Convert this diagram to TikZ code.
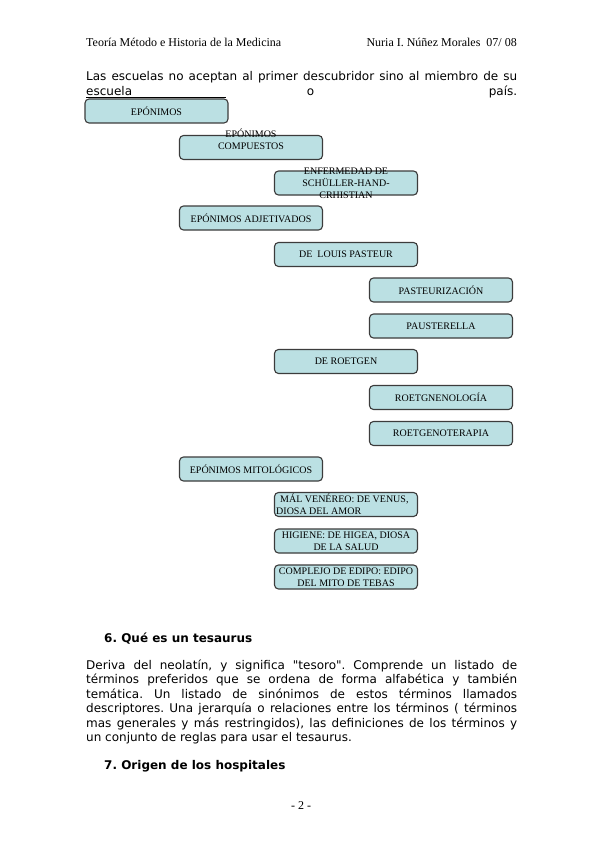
\documentclass[tikz,border=0pt]{standalone}
\usepackage{fontspec}
\setmainfont{Liberation Serif}
\newfontfamily\bodyfont{DejaVu Sans}
\definecolor{boxfill}{RGB}{187,224,227}
\definecolor{boxline}{RGB}{60,60,60}
\frenchspacing
\begin{document}
\begin{tikzpicture}[x=1pt,y=-1pt,
  box/.style={draw=boxline, line width=1.1pt, fill=boxfill, rounded corners=4pt,
    minimum width=143pt, minimum height=24pt, inner sep=0pt, align=center,
    font=\fontsize{10}{12}\selectfont},
  lbl/.style={inner sep=0pt, align=center, font=\fontsize{10}{12}\selectfont},
  hdr/.style={inner sep=0pt, anchor=base west, font=\fontsize{12}{14}\selectfont},
  txt/.style={inner sep=0pt, anchor=base west, font=\bodyfont\fontsize{12}{14}\selectfont},
  head/.style={inner sep=0pt, anchor=base west, font=\bodyfont\bfseries\fontsize{12}{14}\selectfont}]
\useasboundingbox (0,0) rectangle (599,848);
\fill[white] (0,0) rectangle (599,848);

% header
\node[hdr] (h1) at (86,47) {Teoría Método e Historia de la Medicina};
\node[hdr, anchor=base east] (h2) at (517,47) {Nuria I. Núñez Morales\ \ 07/ 08};

% intro
\node[txt] (i1) at (86,81) {\makebox[431pt][s]{Las escuelas no aceptan al primer descubridor sino al miembro de su}};
\node[txt] (i2) at (86,95.5) {\makebox[431pt][s]{escuela o país.}};
\coordinate (u1) at (86,97.5);
\coordinate (u2) at (226,97.5);
\draw[line width=0.6pt] (u1) -- (u2);

% boxes
\node[box] (b1) at (156.5,111) {EPÓNIMOS};
\node[box] (b2) at (251,147.5) {};
\node[lbl] (t2) at (251,139.5) {EPÓNIMOS\\COMPUESTOS};
\node[box] (b3) at (346,183) {};
\node[lbl] (t3) at (346,183) {ENFERMEDAD DE\\SCHÜLLER-HAND-\\CRHISTIAN};
\node[box] (b4) at (251,218) {EPÓNIMOS ADJETIVADOS};
\node[box] (b5) at (346,254.5) {DE\ \ LOUIS PASTEUR};
\node[box] (b6) at (441,290) {PASTEURIZACIÓN};
\node[box] (b7) at (441,326) {PAUSTERELLA};
\node[box] (b8) at (346,361.5) {DE ROETGEN};
\node[box] (b9) at (441,397.5) {ROETGNENOLOGÍA};
\node[box] (b10) at (441,433.5) {ROETGENOTERAPIA};
\node[box] (b11) at (251,469) {EPÓNIMOS MITOLÓGICOS};
\node[box] (b12) at (346,504.5) {};
\node[lbl, anchor=west, align=left] (t12) at (276,504.5) {\hspace*{4pt}MÁL VENÉREO: DE VENUS,\\DIOSA DEL AMOR};
\node[box] (b13) at (346,541) {HIGIENE: DE HIGEA, DIOSA\\DE LA SALUD};
\node[box] (b14) at (346,577) {COMPLEJO DE EDIPO: EDIPO\\DEL MITO DE TEBAS};

% section 6
\node[head] (s6) at (104,642) {6. Qué es un tesaurus};
\node[txt] (p1) at (86,669) {\makebox[431pt][s]{Deriva del neolatín, y significa "tesoro". Comprende un listado de}};
\node[txt] (p2) at (86,683.5) {\makebox[431pt][s]{términos preferidos que se ordena de forma alfabética y también}};
\node[txt] (p3) at (86,698) {\makebox[431pt][s]{temática. Un listado de sinónimos de estos términos llamados}};
\node[txt] (p4) at (86,712.5) {\makebox[431pt][s]{descriptores. Una jerarquía o relaciones entre los términos ( términos}};
\node[txt] (p5) at (86,727) {\makebox[431pt][s]{mas generales y más restringidos), las definiciones de los términos y}};
\node[txt] (p6) at (86,741.5) {un conjunto de reglas para usar el tesaurus.};

% section 7
\node[head] (s7) at (104,769) {7. Origen de los hospitales};

% page number
\node[hdr, anchor=base] (pg) at (301,809) {- 2 -};
\end{tikzpicture}
\end{document}
